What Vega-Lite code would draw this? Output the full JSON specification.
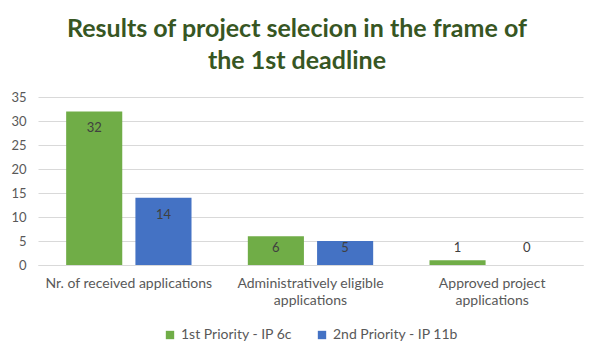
{
  "$schema": "https://vega.github.io/schema/vega-lite/v6.json",
  "width": 545,
  "height": 168,
  "padding": {"left": 10, "top": 17, "right": 17, "bottom": 5},
  "background": "white",
  "title": {
    "text": ["Results of project selecion in the frame of", "the 1st deadline"],
    "font": "Lato",
    "fontSize": 25,
    "fontWeight": "bold",
    "color": "#375623",
    "lineHeight": 32,
    "offset": 17,
    "anchor": "middle",
    "frame": "bounds"
  },
  "data": {
    "values": [
      {"category": "Nr. of received applications", "series": "1st Priority - IP 6c", "value": 32},
      {"category": "Nr. of received applications", "series": "2nd Priority - IP 11b", "value": 14},
      {"category": "Administratively eligible applications", "series": "1st Priority - IP 6c", "value": 6},
      {"category": "Administratively eligible applications", "series": "2nd Priority - IP 11b", "value": 5},
      {"category": "Approved project applications", "series": "1st Priority - IP 6c", "value": 1},
      {"category": "Approved project applications", "series": "2nd Priority - IP 11b", "value": 0}
    ]
  },
  "encoding": {
    "x": {
      "field": "category",
      "type": "nominal",
      "sort": null,
      "scale": {"paddingInner": 0.31, "paddingOuter": 0.155},
      "axis": {
        "title": null,
        "labelAngle": 0,
        "ticks": false,
        "domain": true,
        "domainColor": "#d9d9d9",
        "labelFont": "Lato",
        "labelFontSize": 14,
        "labelColor": "#595959",
        "labelPadding": 11,
        "labelLineHeight": 17,
        "labelExpr": "datum.label == 'Administratively eligible applications' ? ['Administratively eligible', 'applications'] : datum.label == 'Approved project applications' ? ['Approved project', 'applications'] : datum.label"
      }
    },
    "xOffset": {
      "field": "series",
      "type": "nominal",
      "scale": {"paddingInner": 0.19, "paddingOuter": 0}
    },
    "y": {
      "field": "value",
      "type": "quantitative",
      "scale": {"domain": [0, 35], "nice": false},
      "axis": {
        "title": null,
        "values": [0, 5, 10, 15, 20, 25, 30, 35],
        "ticks": false,
        "domain": false,
        "gridColor": "#d9d9d9",
        "labelFont": "Lato",
        "labelFontSize": 13,
        "labelColor": "#595959",
        "labelPadding": 12
      }
    }
  },
  "layer": [
    {
      "mark": {"type": "bar"},
      "encoding": {
        "color": {
          "field": "series",
          "type": "nominal",
          "scale": {"range": ["#70ad47", "#4472c4"]},
          "legend": {
            "title": null,
            "orient": "bottom",
            "direction": "horizontal",
            "symbolType": "square",
            "symbolSize": 70,
            "labelFont": "Lato",
            "labelFontSize": 14,
            "labelColor": "#595959",
            "columnPadding": 22,
            "offset": 21
          }
        }
      }
    },
    {
      "transform": [{"filter": "datum.value >= 7"}],
      "mark": {"type": "text", "dy": 17, "baseline": "middle", "font": "Lato", "fontSize": 13, "color": "#404040"},
      "encoding": {
        "text": {"field": "value", "type": "quantitative"}
      }
    },
    {
      "transform": [{"filter": "datum.value < 7"}],
      "mark": {"type": "text", "dy": -17, "baseline": "middle", "font": "Lato", "fontSize": 13, "color": "#404040"},
      "encoding": {
        "y": {
          "datum": 0,
          "type": "quantitative",
          "axis": {
            "title": null,
            "values": [0, 5, 10, 15, 20, 25, 30, 35],
            "ticks": false,
            "domain": false,
            "gridColor": "#d9d9d9",
            "labelFont": "Lato",
            "labelFontSize": 13,
            "labelColor": "#595959",
            "labelPadding": 12
          }
        },
        "text": {"field": "value", "type": "quantitative"}
      }
    }
  ],
  "config": {
    "view": {"stroke": null},
    "legend": {"layout": {"bottom": {"anchor": "middle"}}}
  }
}
